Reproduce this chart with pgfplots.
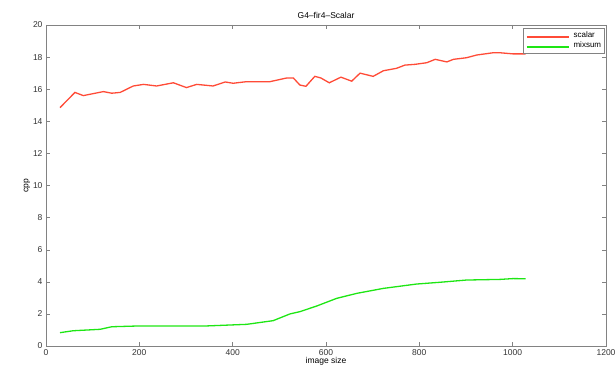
\documentclass[border=0pt]{standalone}
\usepackage{pgfplots}
\pgfplotsset{compat=1.18}
\usepackage{fontspec}
\setmainfont{Liberation Sans}
\definecolor{redl}{RGB}{255,75,55}
\definecolor{greenl}{RGB}{30,230,20}
\definecolor{axg}{RGB}{130,130,130}
\begin{document}
\begin{tikzpicture}
\path[use as bounding box] (-46pt,-26pt) rectangle (569pt,346pt);
\begin{axis}[
  at={(0pt,0pt)}, anchor=south west,
  scale only axis,
  width=560pt, height=321pt,
  xmin=0, xmax=1200, ymin=0, ymax=20,
  xtick={0,200,...,1200}, ytick={0,2,...,20},
  axis line style={axg},
  tick style={axg, thin},
  major tick length=4pt,
  tick align=inside,
  font=\fontsize{8.5}{10}\selectfont,
  tick label style={font=\fontsize{8.5}{10}\selectfont, text=black!80},
  /pgf/number format/assume math mode=true,
  /pgf/number format/1000 sep={},
  title={G4--fir4--Scalar},
  title style={yshift=-3pt},
  xlabel={image size}, ylabel={cpp},
  xlabel style={yshift=5pt},
  ylabel style={yshift=-4pt},
]
\addplot[draw=redl, line width=1.3pt] coordinates {
(30,14.85) (62,15.8) (80,15.6) (123,15.85) (141,15.75) (159,15.8) (187,16.2) (209,16.3) (237,16.2) (273,16.4) (301,16.1) (323,16.3) (358,16.2) (384,16.45) (401,16.37) (430,16.47) (480,16.47) (516,16.7) (530,16.7) (544,16.26) (557,16.18) (576,16.8) (589,16.7) (607,16.4) (632,16.75) (655,16.5) (673,17.0) (701,16.8) (723,17.15) (751,17.3) (769,17.5) (791,17.55) (816,17.65) (834,17.86) (859,17.7) (873,17.86) (901,17.96) (923,18.13) (958,18.27) (973,18.27) (1001,18.2) (1028,18.2)
};
\addplot[draw=greenl, line width=1.3pt] coordinates {
(30,0.83) (58,0.95) (116,1.04) (141,1.2) (201,1.25) (344,1.25) (430,1.35) (487,1.58) (523,2.0) (544,2.14) (580,2.49) (623,2.97) (666,3.28) (723,3.59) (794,3.86) (844,3.97) (901,4.11) (973,4.15) (1001,4.2) (1028,4.19)
};
\node[draw=axg, fill=white, anchor=north east, inner sep=3pt, font=\fontsize{8}{9}\selectfont]
  at (rel axis cs:0.997,0.99) {%
  \begin{tabular}{@{}l@{\hspace{4pt}}l@{}}
  \tikz\draw[redl, line width=1.5pt] (0pt,0pt) -- (42pt,0pt); & scalar\\[1pt]
  \tikz\draw[greenl, line width=1.5pt] (0pt,0pt) -- (42pt,0pt); & mixsum
  \end{tabular}};
\end{axis}
\end{tikzpicture}
\end{document}
